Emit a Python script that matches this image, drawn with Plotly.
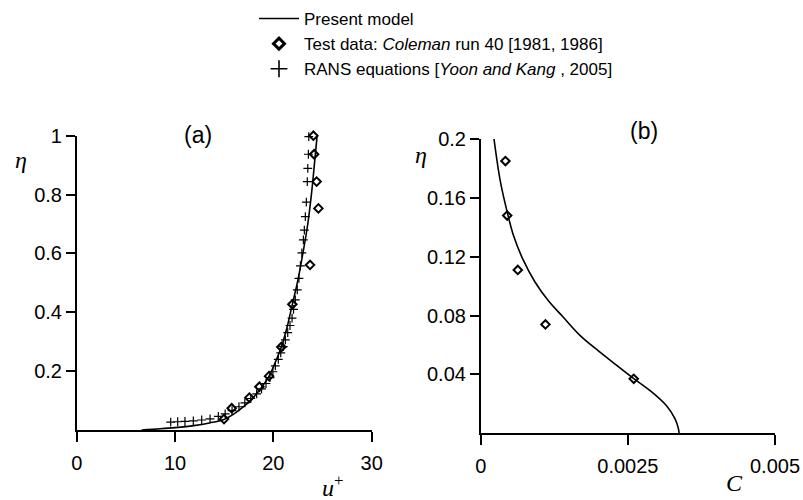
import plotly.graph_objects as go

W, H = 803, 500

# ---------- Panel (a): velocity profile ----------
model_a_u = [6.6, 8.5, 10.0, 11.9, 13.5, 14.9, 16.0, 17.0, 17.8, 18.6, 19.56, 20.2, 20.81,
             21.4, 21.93, 22.5, 23.0, 23.5, 23.9, 24.23, 24.45]
model_a_eta = [0.0, 0.004, 0.008, 0.015, 0.024, 0.035, 0.055, 0.08, 0.105, 0.136, 0.183, 0.23,
               0.282, 0.35, 0.427, 0.51, 0.60, 0.70, 0.81, 0.923, 1.0]

test_a_u = [24.07, 24.14, 24.4, 24.58, 23.73, 21.93, 20.81, 19.56, 18.58, 17.56, 15.76, 14.98]
test_a_eta = [1.0, 0.937, 0.844, 0.753, 0.561, 0.427, 0.282, 0.183, 0.147, 0.11, 0.074, 0.037]

rans_u = [9.56, 10.27, 11.01, 11.86, 12.71, 13.56, 14.4, 15.1, 15.8, 16.5, 17.1, 17.7, 18.3,
          18.8, 19.25, 19.66, 19.95, 20.2, 20.5, 20.75, 21.0, 21.22, 21.46, 21.69, 21.9, 22.05,
          22.23, 22.43, 22.6, 22.75, 22.9, 23.05, 23.15, 23.25, 23.35, 23.45, 23.5, 23.56, 23.6]
rans_eta = [0.027, 0.028, 0.029, 0.031, 0.034, 0.038, 0.046, 0.055, 0.066, 0.079, 0.092, 0.107,
            0.123, 0.140, 0.158, 0.178, 0.198, 0.218, 0.240, 0.262, 0.283, 0.306, 0.331, 0.355,
            0.380, 0.41, 0.442, 0.476, 0.515, 0.558, 0.602, 0.646, 0.679, 0.725, 0.774, 0.844,
            0.889, 0.937, 0.997]

# ---------- Panel (b): concentration profile ----------
model_b_c = [0.000226, 0.00033, 0.00044, 0.00056, 0.00072, 0.00092, 0.00115, 0.00140,
             0.00170, 0.00200, 0.00230, 0.00260, 0.00290, 0.00315, 0.00330, 0.00336, 0.00337]
model_b_eta = [0.2, 0.172, 0.152, 0.134, 0.118, 0.103, 0.090, 0.079, 0.066, 0.056, 0.0465,
               0.0372, 0.0283, 0.019, 0.010, 0.003, 0.0]

test_b_c = [0.00042, 0.00045, 0.00063, 0.0011, 0.0026]
test_b_eta = [0.185, 0.148, 0.111, 0.074, 0.037]

# tick labels
a_xticks = [0, 10, 20, 30]
a_yticks = [0.2, 0.4, 0.6, 0.8, 1]
a_ytext = ["0.2", "0.4", "0.6", "0.8", "1"]
b_xticks = [0, 0.0025, 0.005]
b_xtext = ["0", "0.0025", "0.005"]
b_yticks = [0.04, 0.08, 0.12, 0.16, 0.2]
b_ytext = ["0.04", "0.08", "0.12", "0.16", "0.2"]

SANS = "Liberation Sans, Arial, sans-serif"
SERIF = "Liberation Serif, Times New Roman, DejaVu Serif, serif"

fig = go.Figure()

line_style = dict(color="black", width=1.6)
diamond = dict(symbol="diamond-open", size=6.5, color="black", line=dict(color="black", width=2))
plus = dict(symbol="cross-thin", size=6.3, color="black", line=dict(color="black", width=1.2))

fig.add_trace(go.Scatter(x=model_a_u, y=model_a_eta, mode="lines", line=line_style,
                         line_shape="spline", name="Present model", xaxis="x", yaxis="y",
                         cliponaxis=False, legendrank=1))
fig.add_trace(go.Scatter(x=test_a_u, y=test_a_eta, mode="markers", marker=diamond,
                         showlegend=False, xaxis="x", yaxis="y", cliponaxis=False))
fig.add_trace(go.Scatter(x=rans_u, y=rans_eta, mode="markers", marker=plus,
                         showlegend=False, xaxis="x", yaxis="y", cliponaxis=False))
fig.add_trace(go.Scatter(x=model_b_c, y=model_b_eta, mode="lines", line=line_style,
                         line_shape="spline", showlegend=False, xaxis="x2", yaxis="y2",
                         cliponaxis=False))
fig.add_trace(go.Scatter(x=test_b_c, y=test_b_eta, mode="markers", marker=diamond,
                         showlegend=False, xaxis="x2", yaxis="y2", cliponaxis=False))

# legend entries (larger symbols, as in the reference key)
fig.add_trace(go.Scatter(x=[None], y=[None], mode="markers",
                         marker=dict(symbol="diamond-open", size=8.5, color="black",
                                     line=dict(color="black", width=3)),
                         name="Test data: <i>Coleman</i> run 40 [1981, 1986]",
                         xaxis="x", yaxis="y", legendrank=2))
fig.add_trace(go.Scatter(x=[None], y=[None], mode="markers",
                         marker=dict(symbol="cross-thin", size=12, color="black",
                                     line=dict(color="black", width=1.6)),
                         name="RANS equations [<i>Yoon and Kang</i> , 2005]",
                         xaxis="x", yaxis="y", legendrank=3))

axis_common = dict(showline=True, linecolor="black", linewidth=1.5, showgrid=False,
                   zeroline=False, ticks="outside", tickcolor="black", tickwidth=1.5,
                   automargin=False,
                   tickfont=dict(family=SANS, size=20, color="black"), mirror=False)

fig.update_layout(
    width=W, height=H,
    margin=dict(l=0, r=0, t=0, b=0, autoexpand=False),
    paper_bgcolor="white", plot_bgcolor="white",
    showlegend=True,
    legend=dict(x=254 / W, y=1 - 1 / H, xanchor="left", yanchor="top",
                font=dict(family=SANS, size=17, color="black"),
                itemwidth=40, tracegroupgap=0, bgcolor="rgba(0,0,0,0)"),
    xaxis=dict(domain=[76.7 / W, 371.7 / W], range=[0, 30], tickvals=a_xticks,
               ticklen=10, anchor="y", ticklabelstandoff=4, **axis_common),
    yaxis=dict(domain=[1 - 430 / H, 1 - 135.7 / H], range=[0, 1], tickvals=a_yticks,
               ticktext=a_ytext, ticklen=9, anchor="x", **axis_common),
    xaxis2=dict(domain=[480.7 / W, 775 / W], range=[0, 0.005], tickvals=b_xticks,
                ticktext=b_xtext, ticklen=10, anchor="y2", ticklabelstandoff=4, **axis_common),
    yaxis2=dict(domain=[1 - 433.3 / H, 1 - 139 / H], range=[0, 0.2], tickvals=b_yticks,
                ticktext=b_ytext, ticklen=9, anchor="x2", **axis_common),
)

ann = [
    dict(text="(a)", x=198 / W, y=1 - 135 / H, font=dict(family=SANS, size=23)),
    dict(text="(b)", x=644 / W, y=1 - 131 / H, font=dict(family=SANS, size=23)),
    dict(text="<i>η</i>", x=21 / W, y=1 - 160 / H, font=dict(family=SERIF, size=24)),
    dict(text="<i>η</i>", x=421 / W, y=1 - 155 / H, font=dict(family=SERIF, size=24)),
    dict(text="<i>u</i><sup>+</sup>", x=332 / W, y=1 - 486 / H, font=dict(family=SERIF, size=24)),
    dict(text="<i>C</i>", x=734 / W, y=1 - 483 / H, font=dict(family=SERIF, size=24)),
]
for a in ann:
    a.update(xref="paper", yref="paper", showarrow=False, xanchor="center", yanchor="middle")
    a["font"]["color"] = "black"
fig.update_layout(annotations=ann)

fig.write_html("out.html", config={"displayModeBar": False},
               post_script="document.body.style.margin='0';document.body.style.padding='0';")
